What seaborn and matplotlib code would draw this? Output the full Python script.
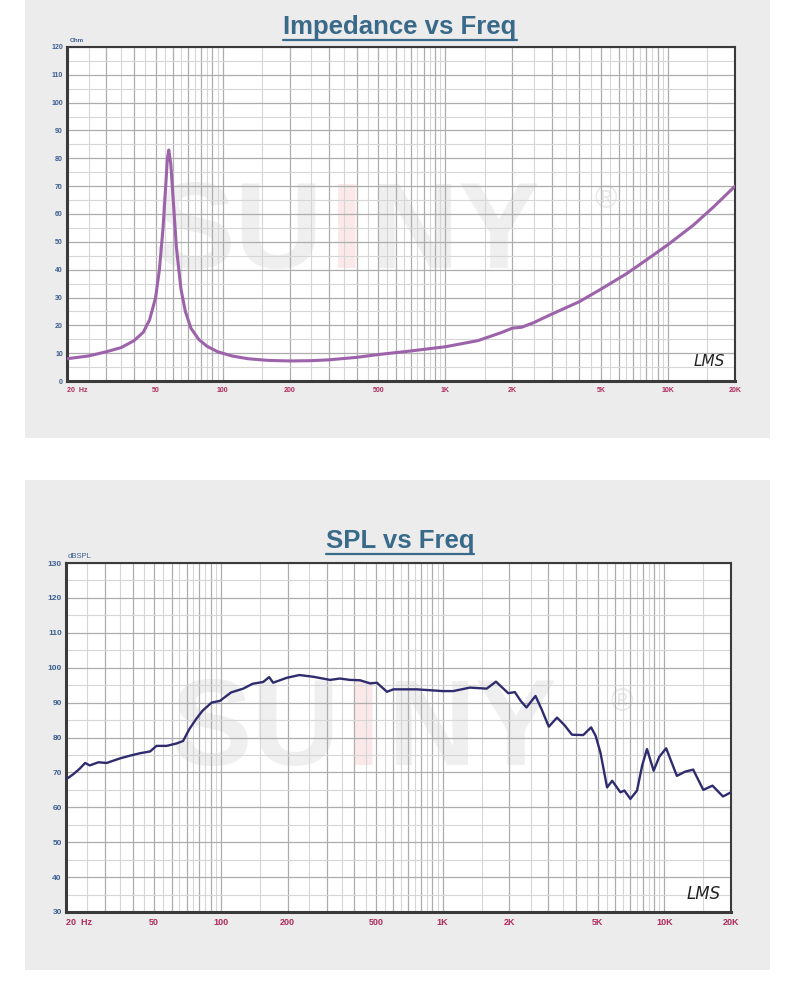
import numpy as np
import pandas as pd
import seaborn as sns
import matplotlib.pyplot as plt
from matplotlib.patches import Rectangle
from matplotlib.lines import Line2D
from matplotlib.ticker import FixedLocator, FixedFormatter, NullFormatter

# ---------------- data ----------------
imp_freq = [20, 25, 30, 35, 40, 44, 47, 50, 52, 54, 55.5, 56.5, 57.3, 58.5, 60, 62, 65, 68,
            72, 78, 85, 95, 110, 130, 160, 200, 250, 300, 400, 500, 700, 1000, 1400, 1800,
            2000, 2200, 2500, 3000, 4000, 5000, 6500, 8000, 10000, 13000, 16000, 20000]
imp_ohm = [8, 9, 10.5, 12, 14.5, 17.5, 22, 30, 40, 55, 70, 80, 83, 78, 65, 48, 33, 25,
           19, 15, 12.5, 10.5, 9, 8, 7.4, 7.2, 7.3, 7.6, 8.5, 9.5, 10.8, 12.3, 14.5, 17.5,
           19, 19.3, 21, 24, 28.5, 33, 38.5, 43.5, 49, 56, 62.5, 70]

spl_freq = [20, 21.6, 23, 24.4, 25.6, 28, 30.5, 35, 38.9, 43.2, 47.9, 51.2, 56.9, 63.1, 67.5,
            72, 77.1, 82.4, 90.7, 99, 111, 126, 139, 155, 165, 172, 198, 226, 261, 311, 344,
            382, 424, 471, 505, 561, 600, 643, 763, 900, 1000, 1117, 1328, 1580, 1741, 1977,
            2119, 2250, 2390, 2500, 2625, 2800, 3013, 3283, 3550, 3834, 4309, 4677, 4900,
            5152, 5520, 5821, 6340, 6608, 7032, 7536, 7950, 8355, 8955, 9500, 10200, 11400,
            12400, 13500, 15000, 16500, 18400, 20000]
spl_db = [68, 69.5, 71, 72.7, 72, 72.9, 72.7, 74, 74.8, 75.5, 76, 77.6, 77.6, 78.3, 79,
          82.4, 85.2, 87.6, 90, 90.5, 92.9, 94, 95.4, 95.9, 97.3, 95.7, 97.1, 97.9, 97.4, 96.5,
          96.9, 96.5, 96.4, 95.5, 95.7, 93.1, 93.8, 93.8, 93.8, 93.5, 93.3, 93.3, 94.3, 94, 96,
          92.7, 93, 90.5, 88.6, 90.2, 91.9, 88, 83.1, 85.7, 83.5, 80.8, 80.7, 82.9, 80.5,
          75.7, 65.7, 67.6, 64.3, 64.8, 62.4, 64.8, 72, 76.7, 70.5, 74.5, 76.9, 69,
          70.2, 70.8, 65, 66.2, 63.1, 64.3]

tick_freqs = [20, 50, 100, 200, 500, 1000, 2000, 5000, 10000, 20000]
tick_names = ['20  Hz', '50', '100', '200', '500', '1K', '2K', '5K', '10K', '20K']
imp_yticks = list(range(0, 121, 10))
spl_yticks = list(range(30, 131, 10))

# ---------------- style ----------------
sns.set_theme(style='white')
plt.rcParams['font.family'] = ['Liberation Sans', 'DejaVu Sans']

W, H = 800, 1000
fig = plt.figure(figsize=(8, 10), dpi=100)
fig.patch.set_facecolor('white')

def fx(px):
    return px / W

def fy(py):
    return 1 - py / H

# grey panels
fig.add_artist(Rectangle((fx(25), fy(438)), fx(745), 438 / H, transform=fig.transFigure,
                         facecolor='#ececec', edgecolor='none', zorder=-10))
fig.add_artist(Rectangle((fx(25), fy(970)), fx(745), 490 / H, transform=fig.transFigure,
                         facecolor='#ececec', edgecolor='none', zorder=-10))

ax1 = fig.add_axes([fx(67), fy(381), fx(668), 334 / H])
ax2 = fig.add_axes([fx(66), fy(912), fx(665), 349 / H])

major_x = [m * 10 ** e for e in range(1, 5) for m in range(1, 10) if 20 <= m * 10 ** e <= 20000]
minor_x = [(m + 0.5) * 10 ** e for e in range(1, 5) for m in range(1, 10)
           if 20 < (m + 0.5) * 10 ** e < 20000]
lab_map = dict(zip(tick_freqs, tick_names))

def style_axis(ax, yticks, xlabsize, ylabsize):
    ax.set_facecolor('white')
    ax.set_xscale('log')
    ax.set_xlim(20, 20000)
    ax.set_ylim(yticks[0], yticks[-1])
    ax.xaxis.set_major_locator(FixedLocator(major_x))
    ax.xaxis.set_major_formatter(FixedFormatter([lab_map.get(v, '') for v in major_x]))
    ax.xaxis.set_minor_locator(FixedLocator(minor_x))
    ax.xaxis.set_minor_formatter(NullFormatter())
    ax.yaxis.set_major_locator(FixedLocator(yticks))
    ax.yaxis.set_minor_locator(FixedLocator([v + 5 for v in yticks[:-1]]))
    ax.yaxis.set_minor_formatter(NullFormatter())
    ax.set_axisbelow(True)
    ax.grid(True, which='major', color='#adadad', lw=0.9)
    ax.grid(True, which='minor', color='#d6d6d6', lw=0.8)
    ax.tick_params(axis='x', which='both', length=0, pad=4, labelsize=xlabsize,
                   labelcolor='#b02a5e')
    ax.tick_params(axis='y', which='major', length=2, width=0.8, color='#555555', pad=1,
                   labelsize=ylabsize, labelcolor='#3d5f8f')
    ax.tick_params(axis='y', which='minor', length=0)
    for lab in ax.get_xticklabels() + ax.get_yticklabels():
        lab.set_fontweight('bold')
    t0 = ax.xaxis.get_major_ticks()[0]
    t0.label1.set_horizontalalignment('left')
    for name, sp in ax.spines.items():
        sp.set_visible(True)
        sp.set_color('#3a3a3a')
        sp.set_linewidth(2.2 if name in ('left', 'bottom') else 1.5)
    ax.set_xlabel('')
    ax.set_ylabel('')

def watermark(ax, xi, y, xr, yr, size):
    kw = dict(transform=fig.transFigure, fontsize=size, fontweight='bold', va='center',
              zorder=0.1, clip_on=False)
    ax.text(fx(xi - 24), fy(y), 'SU', ha='right', color='#efefef', **kw)
    ax.text(fx(xi), fy(y), 'I', ha='center', color='#fbe9e9', **kw)
    ax.text(fx(xi + 24), fy(y), 'NY', ha='left', color='#efefef', **kw)
    ax.text(fx(xr), fy(yr), '®', ha='center', va='center', color='#eaeaea', fontsize=size * 0.25,
            transform=fig.transFigure, zorder=0.1)

# ---------------- impedance ----------------
df_imp = pd.DataFrame({'freq': imp_freq, 'ohm': imp_ohm})
sns.lineplot(data=df_imp, x='freq', y='ohm', ax=ax1, color='#9c62aa', lw=2.2, zorder=3)
style_axis(ax1, imp_yticks, 5, 5)
watermark(ax1, 347, 236, 606, 200, 88)
ax1.text(0.985, 0.035, 'LMS', transform=ax1.transAxes, ha='right', va='bottom',
         fontsize=11, fontstyle='italic', color='#222222', family='DejaVu Sans', zorder=4)

# ---------------- SPL ----------------
df_spl = pd.DataFrame({'freq': spl_freq, 'db': spl_db})
sns.lineplot(data=df_spl, x='freq', y='db', ax=ax2, color='#2e2c6e', lw=1.7, zorder=3)
style_axis(ax2, spl_yticks, 6.5, 6)
watermark(ax2, 364, 733, 622, 703, 88)
ax2.text(0.985, 0.025, 'LMS', transform=ax2.transAxes, ha='right', va='bottom',
         fontsize=12, fontstyle='italic', color='#222222', family='DejaVu Sans', zorder=4)

# axis unit labels
fig.text(fx(70), fy(41), 'Ohm', fontsize=4.5, color='#3d5f8f', va='center', fontweight='bold')
fig.text(fx(68), fy(556), 'dBSPL', fontsize=5.5, color='#3d5f8f', va='center')

# titles with underline
title_color = '#3a6a8a'
t1 = fig.text(0.5, fy(27), 'Impedance vs Freq', ha='center', va='center', fontsize=18.5,
              fontweight='bold', color=title_color)
t2 = fig.text(0.5, fy(541), 'SPL vs Freq', ha='center', va='center', fontsize=18.5,
              fontweight='bold', color=title_color)
fig.canvas.draw()
for t in (t1, t2):
    bb = t.get_window_extent()
    x0, x1 = bb.x0 / W, bb.x1 / W
    yl = (bb.y0 - 0.5) / H
    fig.add_artist(Line2D([x0, x1], [yl, yl], transform=fig.transFigure, color=title_color,
                          lw=1.6))

fig.savefig('out.png', dpi=100)
